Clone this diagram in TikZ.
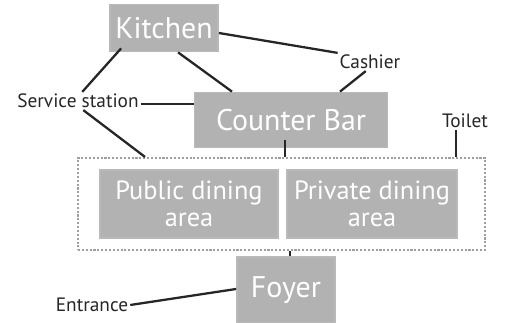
\documentclass[tikz,border=0pt]{standalone}
\usepackage{fontspec}
\setmainfont{PT Sans}
\usepackage{tikz}
\usetikzlibrary{positioning,fit}

\begin{document}
\begin{tikzpicture}[x=0.02cm, y=-0.02cm,
    area/.style={rectangle, draw=gray!55, fill=gray!60, line width=1pt, inner sep=2pt,
                 align=center, text=white, font=\fontsize{17}{17}\selectfont},
    place/.style={inner sep=1pt, font=\fontsize{11}{12}\selectfont, text=black!85},
    link/.style={line width=1.3pt, draw=black!85}
]
    \useasboundingbox (0,0) rectangle (531,323);

    % Main areas
    \node[area, minimum width=108*0.02cm, minimum height=47*0.02cm] (kitchen) at (164,28) {Kitchen};
    \node[area, minimum width=193*0.02cm, minimum height=55*0.02cm] (counter) at (291,120) {Counter Bar};
    \node[area, minimum width=178*0.02cm, minimum height=68*0.02cm,
          font=\fontsize{15}{15}\selectfont] (public) at (189,204) {Public dining\\area};
    \node[area, minimum width=170*0.02cm, minimum height=68*0.02cm,
          font=\fontsize{15}{15}\selectfont] (private) at (372,204) {Private dining\\area};
    \node[area, minimum width=98*0.02cm, minimum height=66*0.02cm] (foyer) at (286,290) {Foyer};

    % Dining zone frame
    \node[draw=gray!75, densely dotted, line width=1.2pt, minimum width=407*0.02cm,
          minimum height=92*0.02cm, inner sep=0pt] (dining) at (281.5,204) {};

    % Labels
    \node[place] (service) at (78,101) {Service station};
    \node[place] (cashier) at (370,62) {Cashier};
    \node[place] (toilet) at (465,121) {Toilet};
    \node[place] (entrance) at (92,305) {Entrance};

    % Connections
    \draw[link] (kitchen.south west) ++(12,-4) coordinate (k1) -- (service.65);
    \draw[link] (kitchen.-60) -- (counter.north west -| 232,0);
    \draw[link] (kitchen.east) ++(0,5) coordinate (k2) -- (cashier.north west);
    \draw[link] (cashier.-115) -- (counter.north -| 340,0);
    \draw[link] (counter.west) ++(0,-16) coordinate (c1) -- (service.east |- c1);
    \draw[link] (service.-60) -- (dining.north -| 145,0);
    \draw[link] (counter.south) ++(-6,-8) coordinate (c2) -- (dining.north -| c2);
    \draw[link] (toilet.south -| 456,0) -- (dining.north -| 456,0);
    \draw[link] (dining.south -| 290,0) -- (foyer.north -| 290,0);
    \draw[link] (entrance.east) -- (foyer.west |- 0,289);
\end{tikzpicture}
\end{document}
